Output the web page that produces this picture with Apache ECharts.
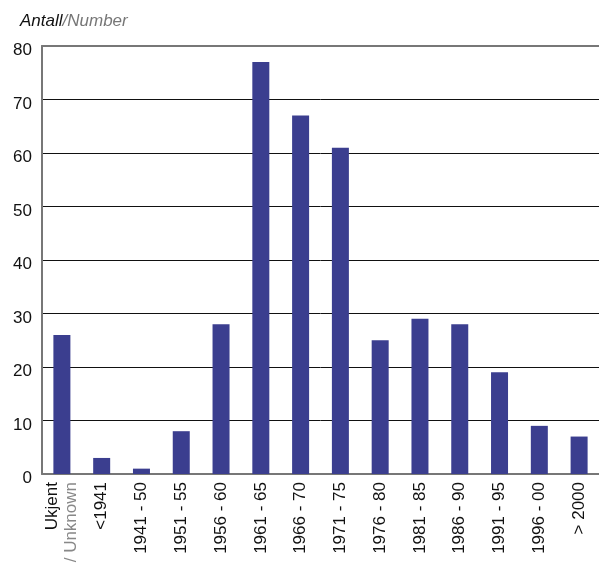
<!DOCTYPE html>
<html><head><meta charset="utf-8">
<script src="https://cdn.jsdelivr.net/npm/echarts@6/dist/echarts.min.js"></script>
<style>html,body{margin:0;padding:0;background:#fff}#c{width:599px;height:575px}</style>
</head><body><div id="c"></div>
<script>
const categories = ['Ukjent', '<1941', '1941 - 50', '1951 - 55', '1956 - 60', '1961 - 65', '1966 - 70', '1971 - 75', '1976 - 80', '1981 - 85', '1986 - 90', '1991 - 95', '1996 - 00', '> 2000'];
const values = [26, 3, 1, 8, 28, 77, 67, 61, 25, 29, 28, 19, 9, 7];
const yTicks = [0, 10, 20, 30, 40, 50, 60, 70, 80];

const font = 'Liberation Sans';
const chart = echarts.init(document.getElementById('c'));
chart.setOption({
  animation: false,
  textStyle: {fontFamily: font},
  title: {
    text: '{a|Antall}{b|/Number}',
    left: 15, top: 8,
    textStyle: {fontWeight: 'normal', rich: {
      a: {fontFamily: font, fontStyle: 'italic', fontWeight: 'normal', fontSize: 17, color: '#111'},
      b: {fontFamily: font, fontStyle: 'italic', fontWeight: 'normal', fontSize: 17, color: '#777'}
    }}
  },
  grid: {left: 42, right: 0, top: 46, bottom: 101},
  xAxis: [{
    type: 'category', data: categories,
    axisLine: {lineStyle: {color: '#777', width: 2}},
    axisTick: {show: false},
    axisLabel: {
      rotate: 90, interval: 0, margin: 8, fontSize: 17, color: '#111', fontFamily: font,
      formatter: v => v === 'Ukjent' ? '{a|Ukjent}\n{b|/ Unknown}' : v,
      rich: {a: {fontSize: 17, lineHeight: 19, color: '#111', fontFamily: font}, b: {fontSize: 17, lineHeight: 19, color: '#888', fontFamily: font}}
    }
  }, {
    type: 'category', data: categories, position: 'top',
    axisLine: {show: true, lineStyle: {color: '#777', width: 2}},
    axisTick: {show: false}, axisLabel: {show: false}
  }],
  yAxis: {
    type: 'value', min: yTicks[0], max: yTicks[yTicks.length - 1], interval: 10,
    axisLine: {show: true, lineStyle: {color: '#777', width: 2}},
    axisTick: {show: false},
    axisLabel: {
      margin: 10, verticalAlign: 'middle',
      formatter: v => '{v|' + v + '}',
      rich: {v: {fontSize: 17, color: '#111', fontFamily: font, padding: [9, 0, 0, 0]}}
    },
    splitLine: {lineStyle: {color: '#111', width: 1}}
  },
  series: [{
    type: 'bar', data: values, barWidth: 17,
    itemStyle: {color: '#3b3e8f'}
  }]
});
</script></body></html>
